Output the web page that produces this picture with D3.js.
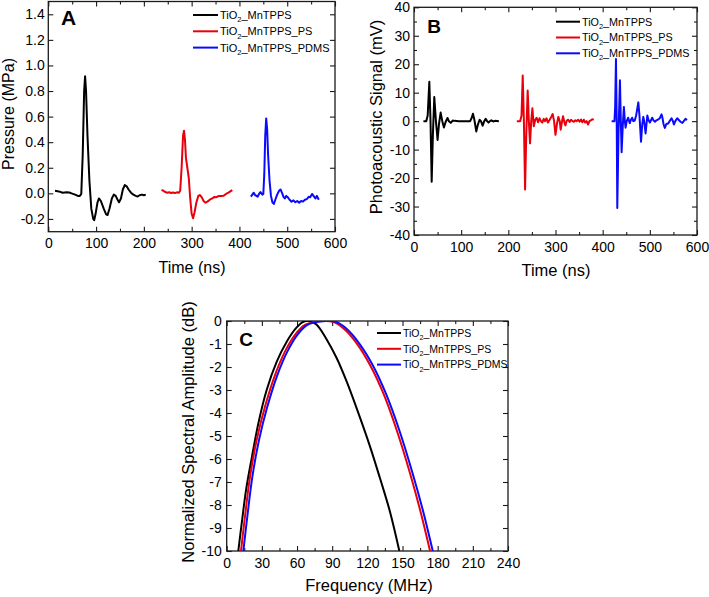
<!DOCTYPE html>
<html><head><meta charset="utf-8">
<script src="https://cdn.jsdelivr.net/npm/d3@7"></script>
<style>
body{margin:0;background:#fff}
svg{display:block}
text{font-family:Arial,"Liberation Sans",sans-serif;fill:#000}
</style>
</head><body>
<svg id="chart" width="709" height="597"></svg>
<script>
// ---------- series labels (prefix "TiO" + subscript "2") ----------
const seriesSuffix = ["_MnTPPS", "_MnTPPS_PS", "_MnTPPS_PDMS"];
const seriesColors = ["#000000", "#e8000b", "#0a0aff"];

// ---------- Panel A: Pressure (MPa) vs Time (ns) ----------
const pressureTicksX = [0, 100, 200, 300, 400, 500, 600];
const pressureMinorX = [50, 150, 250, 350, 450, 550];
const pressureTicksY = [-0.2, 0, 0.2, 0.4, 0.6, 0.8, 1.0, 1.2, 1.4];
const pressureBlack = [[14,0.02],[22,0.015],[30,0.005],[38,0.008],[44,0.006],[50,-0.002],[56,-0.01],[62,-0.02],[66,-0.02],[69,-0.005],[72,0.3],[75,0.8],[77,0.915],[79,0.8],[82,0.45],[86,0.1],[90,-0.12],[94,-0.2],[96,-0.21],[99,-0.16],[103,-0.07],[106,-0.04],[110,-0.06],[116,-0.12],[121,-0.165],[124,-0.17],[128,-0.12],[133,-0.04],[137,-0.01],[141,-0.02],[145,-0.05],[148,-0.07],[152,-0.04],[156,0.03],[160,0.065],[164,0.055],[168,0.03],[173,0.005],[178,-0.01],[183,-0.02],[187,-0.025],[191,-0.015],[196,-0.01],[200,-0.015],[204,-0.01]];
const pressurePS = [[237,0.026],[241,0.02],[245,0.01],[249,0.005],[253,0.008],[257,0.003],[261,0.006],[265,0.002],[269,0.008],[273,0.004],[276,0.02],[279,0.2],[282,0.45],[284,0.49],[286,0.42],[288,0.28],[291,0.2],[294,0.12],[297,-0.04],[300,-0.16],[303,-0.195],[306,-0.15],[310,-0.07],[314,-0.02],[317,-0.013],[321,-0.03],[325,-0.06],[329,-0.073],[333,-0.065],[338,-0.05],[343,-0.04],[348,-0.028],[352,-0.03],[357,-0.02],[362,-0.02],[367,-0.018],[372,-0.005],[377,0.005],[381,0.015],[385,0.025]];
const pressurePDMS = [[424,-0.026],[427,-0.01],[430,0.005],[433,-0.015],[436,-0.02],[438,-0.026],[441,-0.005],[444,0.01],[446,0.0],[448,-0.01],[450,-0.005],[452,0.15],[454,0.45],[456,0.586],[458,0.5],[460,0.3],[463,0.1],[466,-0.02],[469,-0.07],[472,-0.083],[475,-0.05],[479,-0.01],[483,0.02],[486,0.03],[489,0.005],[492,-0.025],[495,-0.04],[498,-0.02],[501,-0.03],[505,-0.05],[509,-0.066],[513,-0.055],[517,-0.07],[521,-0.06],[525,-0.074],[529,-0.06],[533,-0.065],[537,-0.05],[541,-0.045],[545,-0.027],[548,-0.03],[552,-0.005],[555,-0.02],[559,-0.04],[562,-0.02],[564,-0.035],[566,-0.05]];

// ---------- Panel B: Photoacoustic Signal (mV) vs Time (ns) ----------
const signalTicksX = [0, 100, 200, 300, 400, 500, 600];
const signalMinorX = [50, 150, 250, 350, 450, 550];
const signalTicksY = [-40, -30, -20, -10, 0, 10, 20, 30, 40];
const signalMinorY = [-35, -25, -15, -5, 5, 15, 25, 35];
const signalBlack = [[20,0],[26,0],[29,2],[32.5,13.8],[35,0],[37.5,-21.3],[40,-5],[43,8.5],[46.5,0],[50,-6.6],[53,-1],[56.5,3.0],[60,0],[63.5,-2.2],[67,-0.3],[71,1.1],[74,0],[78,-0.6],[82,0.2],[86,0.1],[95,0],[110,0],[119,0],[122,1],[125,2.6],[128,0.5],[132,-3.6],[135,-1.5],[139,0.5],[142,0],[145.5,-1.6],[149,0],[152,0.8],[155,0],[158,-0.5],[161,0],[164,0.3],[168,-0.1],[172,0.1],[180,0]];
const signalPS = [[218,0],[225,0],[228,2],[230.5,16],[233,0],[235.5,-24],[238,-5],[241,10.8],[243.5,0],[246,-7.8],[248.5,0],[251,4.5],[254,-1.8],[257,0.5],[260,1.2],[263,-0.4],[266,1],[269,0],[272,-0.5],[275,0.8],[278,0],[281,1],[284,-0.5],[287,0.3],[291,1.5],[294,2.5],[297,0],[300,-4.8],[303,-1],[306,1.5],[309,0],[311,-3],[314,0],[316,1.7],[319,-0.5],[321,-1.5],[324,0.2],[327,0.5],[330,-0.3],[333,0.5],[336,0],[339,-0.2],[342,0.3],[345,0],[348,0.5],[351,-0.2],[354,0.6],[357,-0.4],[360,0.5],[363,-0.5],[366,0],[369,-1.2],[372,0],[375,0.3],[378,0.7],[381,0.4]];
const signalPDMS = [[419,0],[425,0],[426.5,5],[428.2,21.8],[429.8,0],[431,-30.5],[433.5,-5],[436.6,14.4],[438.5,0],[440.2,-10.9],[442.5,-2],[445,5],[447,0],[448.6,-2.3],[451,0],[454,1.2],[457.5,-0.7],[460,0.5],[462.5,1.2],[465,0],[468,0.2],[471,2],[475.6,6.6],[478,2],[481.3,-7.2],[484,-1],[486.2,1.5],[488,0],[491,-4.3],[493,-1],[494.7,2],[497,0.5],[500,-0.5],[503,0.5],[505,1.2],[508,0.2],[511,-0.2],[514,0.3],[518,0.6],[521,1],[524.8,2.4],[527,1],[529,-1],[531.8,-2.4],[535,-1],[538.9,-0.8],[542,0],[546,1],[549,0],[551,-1.2],[554,0],[558,1],[561,0.5],[563.6,0],[566,-0.3],[569,-0.6],[572,0],[575.5,0.8],[579,0.4]];

// ---------- Panel C: Normalized Spectral Amplitude (dB) vs Frequency (MHz) ----------
const freqTicksX = [0, 30, 60, 90, 120, 150, 180, 210, 240];
const freqMinorX = [15, 45, 75, 105, 135, 165, 195, 225];
const ampTicksY = [-10, -9, -8, -7, -6, -5, -4, -3, -2, -1, 0];
const spectrumBlack = [[9.9,-10],[12.8,-8.8],[16.5,-7.35],[21.3,-5.97],[27,-4.45],[34.1,-3.0],[42.7,-1.77],[51.2,-0.9],[59.7,-0.28],[65.4,-0.04],[71.1,0],[76.8,-0.16],[85.3,-0.8],[93.9,-1.62],[102.4,-2.64],[110.9,-3.8],[122.3,-5.46],[130.8,-6.84],[139.3,-8.29],[147.3,-10]];
const spectrumPS = [[12.2,-10],[15.6,-8.5],[19.9,-6.77],[25.6,-5.17],[32.7,-3.72],[41.2,-2.35],[49.7,-1.33],[58.3,-0.6],[66.8,-0.17],[76.8,-0.02],[83.9,0],[91,-0.04],[99.5,-0.32],[110.9,-0.97],[122.3,-1.91],[133.6,-3.14],[145,-4.74],[156.4,-6.62],[164.9,-8.2],[173.5,-10]];
const spectrumPDMS = [[14.2,-10],[17.6,-8.5],[21.9,-6.77],[27.6,-5.17],[34.7,-3.72],[43.2,-2.35],[51.7,-1.33],[60.3,-0.6],[68.8,-0.17],[78.8,-0.02],[86.5,0],[93.5,-0.04],[101.8,-0.32],[113,-0.97],[124.5,-1.91],[135.7,-3.14],[147.2,-4.74],[158.6,-6.62],[167.2,-8.2],[175.8,-10]];

const svg = d3.select("#chart");
let clipId = 0;

function drawPanel(o) {
  const x = d3.scaleLinear().domain(o.xDom).range([o.left, o.right]);
  const y = d3.scaleLinear().domain(o.yDom).range([o.bottom, o.top]);
  const g = svg.append("g");
  const axCol = "#1a1a1a";

  function styleAxis(sel) {
    sel.select(".domain").remove();
    sel.attr("color", axCol).attr("font-family", null).attr("font-size", null);
    sel.selectAll("line").attr("stroke-width", 1.1);
    sel.selectAll("text").style("font-size", o.tickFont + "px");
  }
  // bottom
  g.append("g").attr("transform", `translate(0,${o.bottom})`)
    .call(d3.axisBottom(x).tickValues(o.xTicks).tickSize(-5).tickPadding(6.7).tickFormat(o.xFmt)).call(styleAxis);
  g.append("g").attr("transform", `translate(0,${o.bottom})`)
    .call(d3.axisBottom(x).tickValues(o.xMinor).tickSize(-3).tickFormat("")).call(styleAxis);
  // top
  g.append("g").attr("transform", `translate(0,${o.top})`)
    .call(d3.axisTop(x).tickValues(o.xTicks).tickSize(-5).tickFormat("")).call(styleAxis);
  g.append("g").attr("transform", `translate(0,${o.top})`)
    .call(d3.axisTop(x).tickValues(o.xMinor).tickSize(-3).tickFormat("")).call(styleAxis);
  // left
  g.append("g").attr("transform", `translate(${o.left},0)`)
    .call(d3.axisLeft(y).tickValues(o.yTicks).tickSize(-5).tickPadding(o.yPad).tickFormat(o.yFmt)).call(styleAxis);
  // right
  g.append("g").attr("transform", `translate(${o.right},0)`)
    .call(d3.axisRight(y).tickValues(o.yTicks).tickSize(-5).tickFormat("")).call(styleAxis);
  if (o.yMinor) {
    g.append("g").attr("transform", `translate(${o.left},0)`)
      .call(d3.axisLeft(y).tickValues(o.yMinor).tickSize(-3).tickFormat("")).call(styleAxis);
    g.append("g").attr("transform", `translate(${o.right},0)`)
      .call(d3.axisRight(y).tickValues(o.yMinor).tickSize(-3).tickFormat("")).call(styleAxis);
  }
  // frame
  g.append("rect").attr("x", o.left).attr("y", o.top)
    .attr("width", o.right - o.left).attr("height", o.bottom - o.top)
    .attr("fill", "none").attr("stroke", axCol).attr("stroke-width", 1.3);

  // clip
  const id = "clip" + (clipId++);
  svg.append("defs").append("clipPath").attr("id", id).append("rect")
    .attr("x", o.left).attr("y", o.top).attr("width", o.right - o.left).attr("height", o.bottom - o.top);

  const line = d3.line().x(d => x(d[0])).y(d => y(d[1])).curve(o.curve || d3.curveLinear);
  o.series.forEach((s, i) => {
    g.append("path").datum(s).attr("d", line).attr("fill", "none")
      .attr("stroke", seriesColors[i]).attr("stroke-width", o.lineWidth)
      .attr("stroke-linejoin", "round").attr("clip-path", `url(#${id})`);
  });

  // axis titles
  g.append("text").attr("x", o.xTitlePos[0]).attr("y", o.xTitlePos[1]).attr("text-anchor", "middle")
    .style("font-size", o.titleFont + "px").text(o.xTitle);
  g.append("text").attr("transform", `translate(${o.yTitlePos[0]},${o.yTitlePos[1]}) rotate(-90)`)
    .attr("text-anchor", "middle").style("font-size", o.titleFont + "px").text(o.yTitle);

  // panel letter
  g.append("text").attr("x", o.letterPos[0]).attr("y", o.letterPos[1]).attr("text-anchor", "middle")
    .style("font-size", o.letterFont + "px").style("font-weight", "bold").text(o.letter);

  // legend
  seriesSuffix.forEach((suf, i) => {
    const yy = o.legend.y0 + i * o.legend.dy;
    g.append("line").attr("x1", o.legend.x1).attr("x2", o.legend.x2).attr("y1", yy).attr("y2", yy)
      .attr("stroke", seriesColors[i]).attr("stroke-width", 2);
    const fs = o.legend.font;
    const t = g.append("text").attr("x", o.legend.tx).attr("y", yy + fs * 0.36).style("font-size", fs + "px");
    t.append("tspan").text("TiO");
    t.append("tspan").attr("dy", fs * 0.3).style("font-size", (fs * 0.68) + "px").text("2");
    t.append("tspan").attr("dy", -fs * 0.3).text(suf);
  });
}

const fmt1 = d => d.toFixed(1);
const fmt0 = d => String(d);

drawPanel({
  left: 48.3, right: 335, top: 1.5, bottom: 231.7,
  xDom: [0, 600], yDom: [-0.3, 1.5],
  xTicks: pressureTicksX, xMinor: pressureMinorX, yTicks: pressureTicksY,
  xFmt: fmt0, yFmt: fmt1, yPad: 3.5, tickFont: 14, titleFont: 16, letterFont: 21,
  xTitle: "Time (ns)", yTitle: "Pressure (MPa)",
  xTitlePos: [192, 273], yTitlePos: [14, 114],
  letter: "A", letterPos: [68.5, 25],
  series: [pressureBlack, pressurePS, pressurePDMS], lineWidth: 2,
  legend: { x1: 193, x2: 218, tx: 220, y0: 15, dy: 16.3, font: 11 }
});

drawPanel({
  left: 414, right: 697, top: 7.3, bottom: 235,
  xDom: [0, 600], yDom: [-40, 40],
  xTicks: signalTicksX, xMinor: signalMinorX, yTicks: signalTicksY, yMinor: signalMinorY,
  xFmt: fmt0, yFmt: fmt0, yPad: 4, tickFont: 14, titleFont: 16.5, letterFont: 19,
  xTitle: "Time (ns)", yTitle: "Photoacoustic Signal (mV)",
  xTitlePos: [556, 275.5], yTitlePos: [382, 117],
  letter: "B", letterPos: [434, 32.5],
  series: [signalBlack, signalPS, signalPDMS], lineWidth: 2,
  legend: { x1: 556, x2: 580, tx: 582, y0: 21.7, dy: 15.8, font: 10.8 }
});

drawPanel({
  left: 226.7, right: 508, top: 321, bottom: 551,
  xDom: [0, 240], yDom: [-10, 0],
  xTicks: freqTicksX, xMinor: freqMinorX, yTicks: ampTicksY,
  xFmt: fmt0, yFmt: fmt0, yPad: 5, tickFont: 14, titleFont: 16.5, letterFont: 19,
  xTitle: "Frequency (MHz)", yTitle: "Normalized Spectral Amplitude (dB)",
  xTitlePos: [369, 591], yTitlePos: [194, 432],
  letter: "C", letterPos: [246, 346],
  series: [spectrumBlack, spectrumPS, spectrumPDMS], lineWidth: 2, curve: d3.curveCatmullRom,
  legend: { x1: 377, x2: 401, tx: 403, y0: 333, dy: 15.8, font: 10.5 }
});
</script>
</body></html>
